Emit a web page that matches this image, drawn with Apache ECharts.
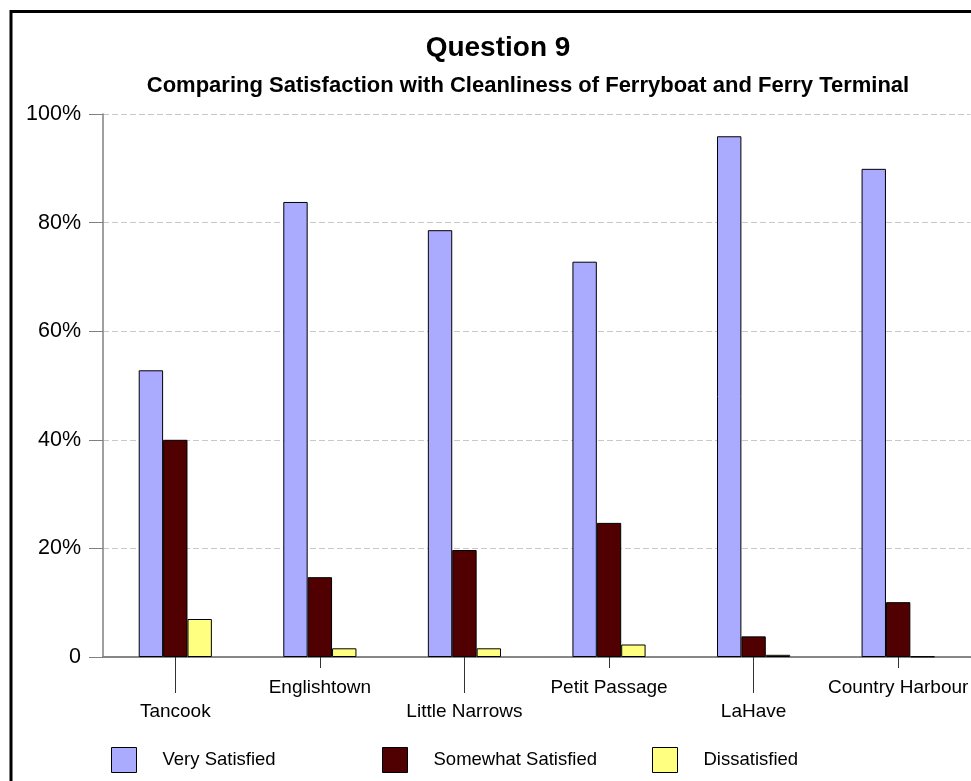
<!DOCTYPE html>
<html>
<head>
<meta charset="utf-8">
<title>Question 9</title>
<script src="https://cdn.jsdelivr.net/npm/echarts@6/dist/echarts.min.js"></script>
<style>
  html, body { margin: 0; padding: 0; background: #fff; }
  #chart { width: 971px; height: 781px; }
</style>
</head>
<body>
<div id="chart"></div>
<script>
// Ferry routes surveyed
const categories = ['Tancook', 'Englishtown', 'Little Narrows', 'Petit Passage', 'LaHave', 'Country Harbour'];

// Share of respondents (%) per satisfaction level
const verySatisfied = [52.8, 83.8, 78.6, 72.8, 95.9, 89.9];
const somewhatSatisfied = [40.0, 14.7, 19.7, 24.7, 3.8, 10.1];
const dissatisfied = [7.0, 1.6, 1.6, 2.3, 0.4, 0.1];

const seriesNames = ['Very Satisfied', 'Somewhat Satisfied', 'Dissatisfied'];
const yTicks = [0, 20, 40, 60, 80, 100];

const FONT = '"Liberation Sans", Arial, sans-serif';
const colors = ['#aaaaff', '#500000', '#ffff80'];

const chart = echarts.init(document.getElementById('chart'), null, { renderer: 'canvas' });

const isLow = (i) => i % 2 === 0;   // labels on the lower row
const isHigh = (i) => i % 2 === 1;  // labels on the upper row

const baseXAxis = {
  type: 'category',
  data: categories,
  gridIndex: 0,
  position: 'bottom',
  axisLine: { show: true, lineStyle: { color: '#808080', width: 1.5 } },
  splitLine: { show: false },
  axisLabel: { color: '#000', fontFamily: FONT, fontSize: 19 }
};

const option = {
  animation: false,
  backgroundColor: '#ffffff',
  title: [
    {
      text: 'Question 9',
      left: 497, top: 29, textAlign: 'center',
      textStyle: { fontFamily: FONT, fontSize: 28, fontWeight: 'bold', color: '#000' }
    },
    {
      text: 'Comparing Satisfaction with Cleanliness of Ferryboat and Ferry Terminal',
      left: 526, top: 70, textAlign: 'center',
      textStyle: { fontFamily: FONT, fontSize: 22, fontWeight: 'bold', color: '#000' }
    }
  ],
  legend: seriesNames.map((name, i) => ({
    data: [name],
    left: [111, 382, 652][i],
    top: 747,
    padding: 0,
    icon: 'rect',
    itemWidth: 25,
    itemHeight: 25,
    itemStyle: { borderColor: '#000', borderWidth: 1 },
    selectedMode: false,
    textStyle: { fontFamily: FONT, fontSize: 18.5, color: '#000', padding: [0, 0, 0, 21] }
  })),
  grid: { left: 103, top: 114, width: 872, height: 543, containLabel: false },
  xAxis: [
    Object.assign({}, baseXAxis, {
      axisTick: { show: true, alignWithLabel: true, length: 36, interval: (i) => isLow(i), lineStyle: { color: '#333' } },
      axisLabel: Object.assign({}, baseXAxis.axisLabel, { interval: (i) => isLow(i), margin: 45 })
    }),
    Object.assign({}, baseXAxis, {
      axisTick: { show: true, alignWithLabel: true, length: 11, interval: (i) => isHigh(i), lineStyle: { color: '#333' } },
      axisLabel: Object.assign({}, baseXAxis.axisLabel, { interval: (i) => isHigh(i), margin: 21 })
    })
  ],
  yAxis: {
    type: 'value',
    min: yTicks[0],
    max: yTicks[yTicks.length - 1],
    interval: 20,
    axisLine: { show: true, lineStyle: { color: '#808080', width: 1.5 } },
    axisTick: { show: true, length: 14, lineStyle: { color: '#808080' } },
    axisLabel: {
      color: '#000', fontFamily: FONT, fontSize: 21.5, margin: 22,
      formatter: (v) => (v === 0 ? '0' : v + '%')
    },
    splitLine: { show: true, lineStyle: { color: '#c8c8c8', type: [6, 3], width: 1.2 } }
  },
  series: [verySatisfied, somewhatSatisfied, dissatisfied].map((vals, i) => ({
    name: seriesNames[i],
    type: 'bar',
    xAxisIndex: 0,
    data: vals,
    barGap: '0%',
    barCategoryGap: '49.4%',
    itemStyle: { color: colors[i], borderColor: '#000', borderWidth: 1 }
  })),
  graphic: [
    {
      type: 'rect',
      shape: { x: 11, y: 11.5, width: 1000, height: 820 },
      style: { fill: 'none', stroke: '#000', lineWidth: 3 },
      z: 100
    }
  ]
};

// Nudge the two headings so their ink sits where it should
option.title[0].left = 493;
option.title[1].left = 523;

chart.setOption(option);
</script>
</body>
</html>
